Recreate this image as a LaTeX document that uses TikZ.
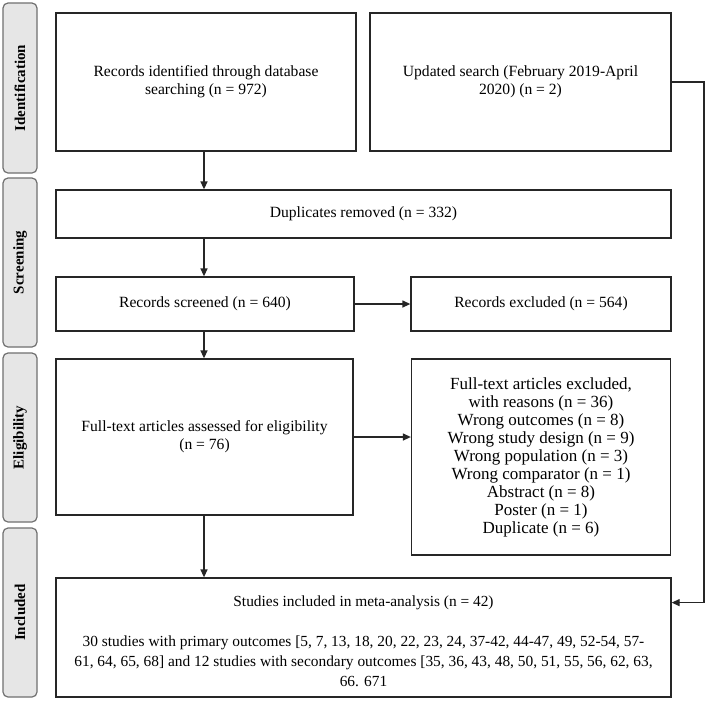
\documentclass[tikz,border=0pt]{standalone}
\usepackage{fontspec}
\setmainfont{Liberation Serif}
\usetikzlibrary{arrows.meta,calc}
\definecolor{sidefill}{HTML}{E6E6E6}
\definecolor{sidedraw}{HTML}{707070}
\definecolor{boxdraw}{HTML}{262626}
\begin{document}
\begin{tikzpicture}[x=1pt,y=-1pt,
  sidebox/.style={draw=sidedraw,fill=sidefill,line width=1.2pt,rounded corners=5pt,
    minimum width=34pt,inner sep=0pt},
  sidelabel/.style={rotate=90,font=\fontsize{15}{17}\selectfont\bfseries},
  flowbox/.style={draw=boxdraw,line width=1.3pt,fill=white,inner sep=2pt,align=center,
    font=\fontsize{15.6}{18}\selectfont},
  arr/.style={draw=boxdraw,line width=1.3pt,-{Triangle[length=8pt,width=7pt]}},
  conn/.style={draw=boxdraw,line width=1.3pt}]
\useasboundingbox (0,0) rectangle (708,702);
\fill[white] (0,0) rectangle (708,702);
% side bars
\node[sidebox,minimum height=170pt] (sid) at (20,88) {};
\node[sidelabel] at (sid) {Identification};
\node[sidebox,minimum height=169pt] (ssc) at (20,262.5) {};
\node[sidelabel] at (ssc) {Screening};
\node[sidebox,minimum height=169pt] (sel) at (20,437.5) {};
\node[sidelabel] at (sel) {Eligibility};
\node[sidebox,minimum height=169pt] (sin) at (20,612.5) {};
\node[sidelabel] at (sin) {Included};
% flow boxes
\node[flowbox,minimum width=300pt,minimum height=138pt] (rec) at (206,82)
  {Records identified through database\\searching (n = 972)};
\node[flowbox,minimum width=301pt,minimum height=138pt] (upd) at (520.5,82)
  {Updated search (February 2019-April\\2020) (n = 2)};
\node[flowbox,minimum width=615pt,minimum height=48pt] (dup) at (363.5,214)
  {Duplicates removed (n = 332)};
\node[flowbox,minimum width=298pt,minimum height=54pt] (scr) at (205,304)
  {Records screened (n = 640)};
\node[flowbox,minimum width=260pt,minimum height=54pt] (exc) at (541,304)
  {Records excluded (n = 564)};
\node[flowbox,minimum width=297pt,minimum height=156pt] (ft) at (204.5,437)
  {Full-text articles assessed for eligibility\\(n = 76)};
\node[flowbox,minimum width=259pt,minimum height=196pt,font=\fontsize{17}{18}\selectfont] (ftex) at (541,457)
  {Full-text articles excluded,\\with reasons (n = 36)\\Wrong outcomes (n = 8)\\Wrong study design (n = 9)\\Wrong population (n = 3)\\Wrong comparator (n = 1)\\Abstract (n = 8)\\Poster (n = 1)\\Duplicate (n = 6)};
\node[flowbox,minimum width=615pt,minimum height=119pt] (inc) at (363.5,637.5) {};
\node[align=center,inner sep=0pt,font=\fontsize{15.4}{20}\selectfont] (inctext) at (363.5,641.5)
  {Studies included in meta-analysis (n = 42)\\[20pt]30 studies with primary outcomes [5, 7, 13, 18, 20, 22, 23, 24, 37-42, 44-47, 49, 52-54, 57-\\61, 64, 65, 68] and 12 studies with secondary outcomes [35, 36, 43, 48, 50, 51, 55, 56, 62, 63,\\66. 671};
% connectors
\draw[arr] (rec.south -| 204,0) -- (204,0 |- dup.north);
\draw[arr] (dup.south -| 204,0) -- (204,0 |- scr.north);
\draw[arr] (scr.south -| 204,0) -- (204,0 |- ft.north);
\draw[arr] (ft.south -| 204,0) -- (204,0 |- inc.north);
\draw[arr] (scr.east) -- (scr.east -| exc.west);
\draw[arr] (ft.east) -- (ft.east -| ftex.west);
\coordinate (rr) at (704,0);
\coordinate (incin) at ($(inc.north east)!0.21!(inc.south east)$);
\draw[arr] (upd.east) -- (upd.east -| rr) -- (rr |- incin) -- (incin);
\end{tikzpicture}
\end{document}
